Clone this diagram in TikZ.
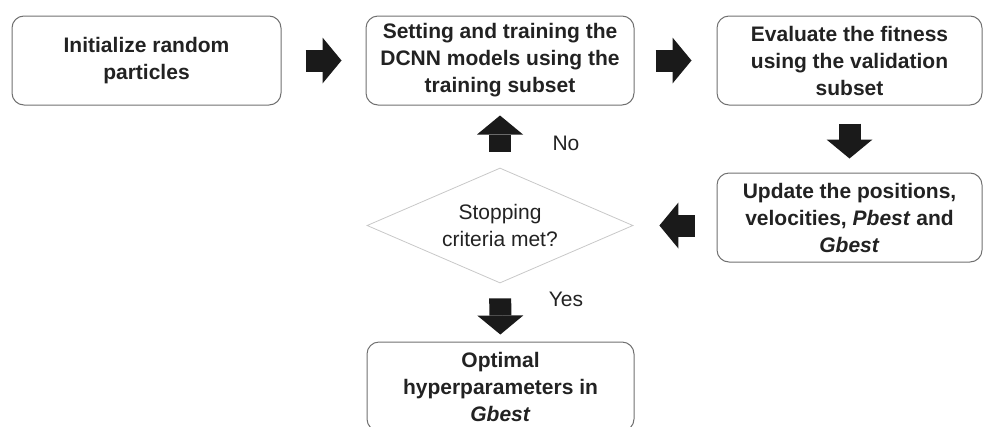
\documentclass[tikz,border=0pt]{standalone}
\usepackage{fontspec}
\setmainfont{Liberation Sans}
\usepackage{xcolor}
\usepackage{tikz}
\usetikzlibrary{arrows.meta,shapes.geometric}

\definecolor{boxline}{HTML}{707070}
\definecolor{diamline}{HTML}{C8C8C8}
\definecolor{arrowfill}{HTML}{1A1A1A}
\definecolor{txt}{HTML}{222222}

\begin{document}
\begin{tikzpicture}[x=1pt,y=-1pt,
    stepbox/.style={draw=boxline, line width=1pt, rounded corners=12pt,
      minimum height=89pt, inner sep=0pt, align=center, text=txt,
      font=\fontsize{21}{27}\selectfont\bfseries},
    decision/.style={diamond, draw=diamline, line width=0.8pt, aspect=2.3,
      minimum width=266pt, minimum height=115pt, inner sep=0pt, align=center,
      text=txt, font=\fontsize{21}{27}\selectfont},
    answer/.style={text=txt, font=\fontsize{21}{27}\selectfont},
    blockarrow/.style={draw=arrowfill, line width=22pt,
      -{Triangle[length=19pt,width=46pt,line width=0pt]}}]
    % \draw[help lines] (0,0) grid (984,426);
    \useasboundingbox (0,0) rectangle (984,426);
    \clip (0,0) rectangle (984,426);

    % top row
    \node[stepbox, minimum width=269pt] (init) at (146.5,60.5)
      {Initialize random\\particles};
    \node[stepbox, minimum width=268pt] (train) at (500,60.5)
      {Setting and training the\\DCNN models using the\\training subset};
    \node[stepbox, minimum width=265pt] (fit) at (849.5,60.5)
      {Evaluate the fitness\\using the validation\\subset};

    % right column
    \node[stepbox, minimum width=265pt] (update) at (849.5,217.5)
      {Update the positions,\\velocities, \textit{Pbest} and\\\textit{Gbest}};

    % decision
    \node[decision] (stop) at (500,225.5) {Stopping\\criteria met?};

    % result
    \node[stepbox, minimum width=267pt] (opt) at (500.5,386.5)
      {Optimal\\hyperparameters in\\\textit{Gbest}};

    % labels
    \node[answer] (no) at (566,143) {No};
    \node[answer] (yes) at (566,299) {Yes};

    % ->
    \draw[blockarrow, shorten <=24pt, shorten >=24pt] (init) -- (train);
    \draw[blockarrow, shorten <=21pt, shorten >=25pt] (train) -- (fit);

    % down
    \draw[blockarrow, shorten <=18pt, shorten >=14pt] (fit) -- (update);

    % <-
    \draw[blockarrow, shorten <=22pt, shorten >=26pt]
      (update.west |- stop) -- (stop.east);

    % up / down from decision
    \draw[blockarrow, shorten <=16pt, shorten >=10pt] (stop) -- (train);
    \draw[blockarrow, shorten <=15pt, shorten >=7pt] (stop) -- (opt);
\end{tikzpicture}
\end{document}
